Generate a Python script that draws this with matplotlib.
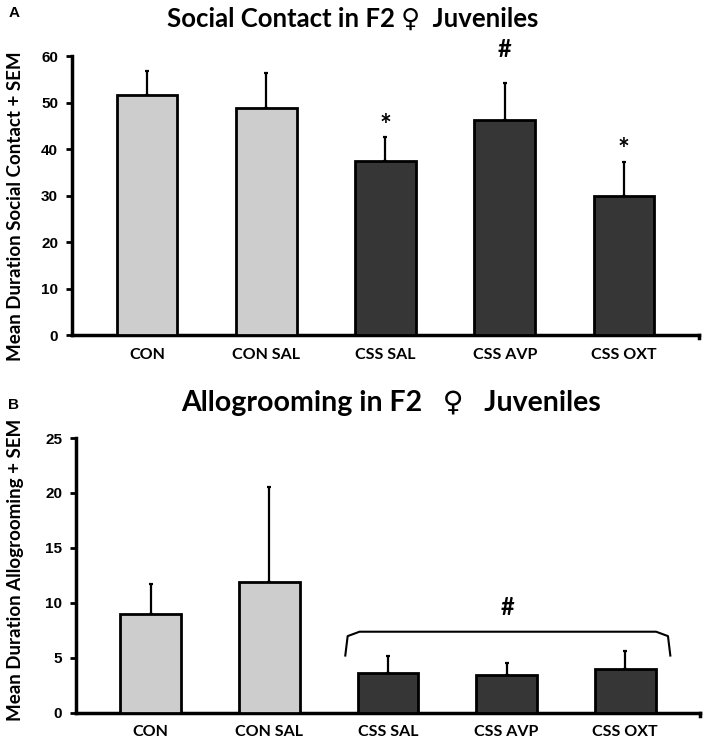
import matplotlib
matplotlib.use("Agg")
import matplotlib.pyplot as plt

groups = ["CON", "CON SAL", "CSS SAL", "CSS AVP", "CSS OXT"]
social_mean = [51.7, 48.8, 37.4, 46.2, 30.0]
social_sem = [5.0, 7.5, 5.1, 7.9, 7.2]
social_marks = ["", "", "*", "#", "*"]
groom_mean = [8.95, 11.85, 3.65, 3.45, 3.95]
groom_sem = [2.75, 8.65, 1.5, 1.1, 1.7]
bar_colors = ["#cdcdcd", "#cdcdcd", "#363636", "#363636", "#363636"]

TF = "Lato"
NF = "Liberation Sans"

fig = plt.figure(figsize=(7.05, 7.41), dpi=100)

def style(ax, ymax, step):
    ax.set_xlim(-0.63, 4.63)
    ax.set_ylim(0, ymax)
    ax.set_yticks(range(0, ymax + 1, step))
    for s in ["top", "right"]:
        ax.spines[s].set_visible(False)
    ax.spines["left"].set_linewidth(2.5)
    ax.spines["bottom"].set_linewidth(2.5)
    ax.tick_params(axis="y", direction="out", length=4, width=2, pad=6)
    ax.tick_params(axis="x", length=0, pad=9)
    ax.set_xticks(range(len(groups)))
    ax.set_xticklabels(groups, fontfamily=TF, fontweight="bold", fontsize=11.5)
    for lab in ax.get_yticklabels():
        lab.set_fontfamily(NF)
        lab.set_fontweight("bold")
        lab.set_fontsize(11)
    # small end tick on the x axis
    ax.plot([4.63, 4.63], [0, -0.012 * ymax], color="black", lw=2.5, clip_on=False)

x = list(range(len(groups)))

# Panel A
ax1 = fig.add_axes([0.1021, 0.5479, 0.8894, 0.3765])
ax1.bar(x, social_mean, width=0.51, color=bar_colors, edgecolor="black", linewidth=2, zorder=3)
ax1.errorbar(x, social_mean, yerr=[[0] * 5, social_sem], fmt="none", ecolor="black",
             elinewidth=1.6, capsize=1.5, capthick=1.6, zorder=2)
style(ax1, 60, 10)
ax1.set_ylabel("Mean Duration Social Contact + SEM", fontfamily=TF, fontweight="bold",
               fontsize=13.5)
ax1.yaxis.set_label_coords(-0.077, 0.46)
for i, m in enumerate(social_marks):
    if m:
        top = social_mean[i] + social_sem[i]
        off = 2.5 if m == "*" else 7.2
        ax1.text(i, top + off, m, ha="center", va="center", fontsize=20 if m == "*" else 17,
                 fontfamily=TF, fontweight="bold", clip_on=False)
fig.text(0.5, 0.975, "Social Contact in F2 \u2640  Juveniles", ha="center", va="center",
         fontsize=18.5, fontfamily=[TF, "DejaVu Sans"], fontweight="bold")
fig.text(0.012, 0.983, "A", ha="left", va="center", fontsize=11, fontfamily=NF, fontweight="bold")

# Panel B
ax2 = fig.add_axes([0.1078, 0.0382, 0.8851, 0.3707])
ax2.bar(x, groom_mean, width=0.51, color=bar_colors, edgecolor="black", linewidth=2, zorder=3)
ax2.errorbar(x, groom_mean, yerr=[[0] * 5, groom_sem], fmt="none", ecolor="black",
             elinewidth=1.6, capsize=1.5, capthick=1.6, zorder=2)
style(ax2, 25, 5)
ax2.set_ylabel("Mean Duration Allogrooming + SEM", fontfamily=TF, fontweight="bold",
               fontsize=13.5)
ax2.yaxis.set_label_coords(-0.083, 0.52)
# bracket over CSS groups
bx0, bx1 = 1.64, 4.38
by0, by1 = 5.2, 7.37
ax2.plot([bx0, bx0 + 0.02, bx0 + 0.12, bx1 - 0.12, bx1 - 0.02, bx1],
         [by0, by1 - 0.4, by1, by1, by1 - 0.4, by0], color="black", lw=1.5)
ax2.text((bx0 + bx1) / 2, 9.6, "#", ha="center", va="center", fontsize=17,
         fontfamily=TF, fontweight="bold")
fig.text(0.5546, 0.456, "Allogrooming in F2   \u2640   Juveniles", ha="center", va="center",
         fontsize=20.5, fontfamily=[TF, "DejaVu Sans"], fontweight="bold")
fig.text(0.012, 0.453, "B", ha="left", va="center", fontsize=11, fontfamily=NF, fontweight="bold")

fig.savefig("out.png", dpi=100)
